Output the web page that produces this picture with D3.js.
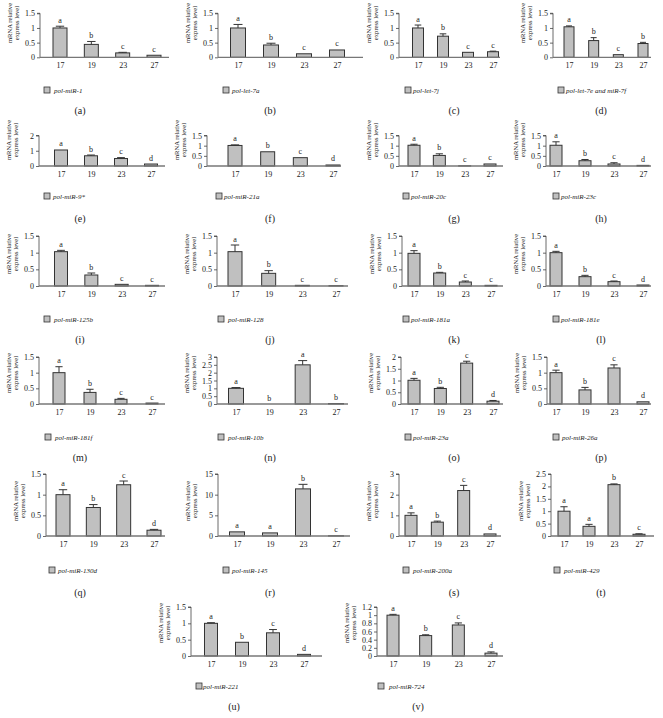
<!DOCTYPE html>
<html><head><meta charset="utf-8">
<script src="https://cdn.jsdelivr.net/npm/d3@7"></script>
<style>
html,body{margin:0;padding:0;background:#fff;}
svg{display:block;font-family:"Liberation Serif","DejaVu Serif",serif;}
</style></head>
<body><svg id="c" width="663" height="718"></svg>
<script>
// ---------- DATA ----------
const panelIds = ["a","b","c","d","e","f","g","h","i","j","k","l","m","n","o","p","q","r","s","t","u","v"];
const names = ["pol-miR-1","pol-let-7a","pol-let-7j","pol-let-7e and miR-7f","pol-miR-9*","pol-miR-21a","pol-miR-20c","pol-miR-23c",
  "pol-miR-125b","pol-miR-128","pol-miR-181a","pol-miR-181e","pol-miR-181f","pol-miR-10b","pol-miR-23a","pol-miR-26a",
  "pol-miR-130d","pol-miR-145","pol-miR-200a","pol-miR-429","pol-miR-221","pol-miR-724"];
const categories = ["17","19","23","27"];
const means = [
  [1.0,0.44,0.15,0.07],[1.0,0.42,0.12,0.25],[1.0,0.72,0.17,0.19],[1.04,0.57,0.09,0.47],
  [1.05,0.67,0.49,0.13],[1.01,0.7,0.41,0.05],[1.02,0.52,0.01,0.1],[1.02,0.26,0.1,0.03],
  [1.03,0.33,0.05,0.02],[1.03,0.38,0.02,0.01],[0.98,0.39,0.12,0.02],[1.0,0.28,0.13,0.03],
  [1.0,0.37,0.15,0.03],[1.0,0.0,2.5,0.03],[1.01,0.66,1.74,0.12],[1.0,0.45,1.15,0.07],
  [1.0,0.69,1.24,0.14],[1.0,0.75,11.4,0.05],[1.0,0.67,2.2,0.1],[1.0,0.39,2.07,0.07],
  [1.0,0.42,0.71,0.05],[1.0,0.5,0.76,0.07]
];
const errors = [
  [0.06,0.1,0.02,0],[0.12,0.06,0,0],[0.1,0.08,0,0.02],[0.03,0.1,0,0.04],
  [0,0.05,0.06,0],[0.03,0,0,0],[0.05,0.08,0,0],[0.17,0.06,0.06,0],
  [0.04,0.06,0,0],[0.2,0.08,0,0],[0.08,0.02,0.03,0],[0.04,0.04,0.02,0],
  [0.19,0.1,0.03,0],[0.05,0,0.27,0],[0.08,0.05,0.08,0.03],[0.08,0.08,0.1,0],
  [0.12,0.07,0.09,0.02],[0,0,1.1,0],[0.12,0.05,0.25,0],[0.18,0.08,0.03,0.02],
  [0.02,0,0.1,0],[0.02,0.02,0.05,0.03]
];
const letters = [
  ["a","b","c","c"],["a","b","c","c"],["a","b","c","c"],["a","b","c","b"],
  ["a","b","c","d"],["a","b","c","d"],["a","b","c","c"],["a","b","c","d"],
  ["a","b","c","c"],["a","b","c","c"],["a","b","c","c"],["a","b","c","d"],
  ["a","b","c","c"],["a","b","a","b"],["a","b","c","d"],["a","b","c","d"],
  ["a","b","c","d"],["a","a","b","c"],["a","b","c","d"],["a","a","b","c"],
  ["a","b","c","d"],["a","b","c","d"]
];
const t15 = [0,0.5,1,1.5];
const yTicks = [
  t15,t15,t15,t15,
  [0,1,2],t15,t15,t15,
  t15,t15,t15,t15,
  t15,[0,0.5,1,1.5,2,2.5,3],[0,0.5,1,1.5,2],t15,
  t15,[0,5,10,15],[0,1,2,3],[0,0.5,1,1.5,2,2.5],
  t15,[0,0.2,0.4,0.6,0.8,1,1.2]
];
const yTickLabels = yTicks.map(a => a.map(v => String(v)));
const yTitle = ["mRNA relative","express level"];

// ---------- LAYOUT (positions only) ----------
const colX = [
  {ax:40,c0:60,c3:154,xe:169,bw:14},{ax:218,c0:238,c3:337,xe:363,bw:15},{ax:399,c0:418,c3:493,xe:500,bw:11},{ax:553,c0:569,c3:643,xe:651,bw:10},
  {ax:39,c0:61,c3:151,xe:165,bw:13},{ax:207,c0:235,c3:333,xe:341,bw:14},{ax:399,c0:414,c3:490,xe:503,bw:12},{ax:546,c0:556,c3:643,xe:651,bw:12},
  {ax:39,c0:61,c3:152,xe:165,bw:13},{ax:217,c0:235,c3:336,xe:348,bw:14},{ax:402,c0:414,c3:491,xe:503,bw:12},{ax:546,c0:556,c3:643,xe:651,bw:12},
  {ax:39,c0:59,c3:152,xe:165,bw:12},{ax:217,c0:236,c3:336,xe:348,bw:15},{ax:401,c0:414,c3:493,xe:503,bw:12},{ax:547,c0:556,c3:643,xe:651,bw:12},
  {ax:46,c0:63,c3:154,xe:165,bw:14},{ax:218,c0:237,c3:336,xe:350,bw:15},{ax:399,c0:411,c3:490,xe:501,bw:12},{ax:551,c0:564,c3:639,xe:654,bw:12},
  {ax:191,c0:211,c3:304,xe:322,bw:13},{ax:377,c0:393,c3:491,xe:503,bw:12}
];
const rowY = [
  {top:13.3,zero:57.3,title:23,leg:90,lab:110},
  {top:135.5,zero:166,title:140,leg:196,lab:218},
  {top:236,zero:286,title:254,leg:319,lab:339},
  {top:357,zero:404,title:373,leg:437,lab:457},
  {top:474,zero:536,title:501,leg:570,lab:592},
  {top:607,zero:656,title:623,leg:686,lab:706}
];
const legX = [[44,54],[223,232],[405,413],[558,566],[44,53],[216,224],[403,411],[553,561],
  [44,54],[218,228],[403,411],[553,561],[45,55],[218,228],[405,413],[553,562],
  [49,58],[223,232],[403,413],[554,564],[196,203],[378,389]];
const labX = [80,270,454,601,80,270,454,601,80,270,454,601,80,270,454,601,80,270,454,601,234,418];

// ---------- DRAW ----------
const svg = d3.select("#c");
panelIds.forEach((id, i) => {
  const L = colX[i];
  const row = i < 20 ? Math.floor(i/4) : 5;
  const RY = rowY[row];
  const ticks = yTicks[i];
  const yMax = ticks[ticks.length-1];
  const y = d3.scaleLinear().domain([0, yMax]).range([RY.zero, RY.top]);
  const x = d3.scalePoint().domain(categories).range([L.c0, L.c3]);
  const g = svg.append("g");

  const yAxis = d3.axisLeft(y).tickValues(ticks).tickSize(3).tickPadding(2)
    .tickFormat((d, k) => yTickLabels[i][k]);
  const ya = g.append("g").attr("transform", `translate(${L.ax},0)`).call(yAxis);
  ya.select(".domain").attr("stroke", "#444").attr("stroke-width", 0.8).attr("d", `M-3,${RY.top}H0V${RY.zero}`);
  ya.selectAll(".tick line").attr("stroke", "#444").attr("stroke-width", 0.8);
  ya.selectAll(".tick text").attr("font-size", 8).attr("fill", "#222").attr("font-family", "Liberation Serif");

  const data = categories.map((c, k) => ({c, v: means[i][k], e: errors[i][k], l: letters[i][k]}));
  g.selectAll("rect.bar").data(data).join("rect").attr("class", "bar")
    .attr("x", d => x(d.c) - L.bw/2).attr("width", L.bw)
    .attr("y", d => y(d.v)).attr("height", d => Math.max(0, RY.zero - y(d.v)))
    .attr("fill", "#c0c0c0").attr("stroke", "#333").attr("stroke-width", 1);

  const eb = data.filter(d => d.e > 0);
  g.selectAll("path.err").data(eb).join("path").attr("class", "err")
    .attr("d", d => `M${x(d.c)},${y(d.v)}V${y(d.v + d.e)}M${x(d.c) - L.bw*0.3},${y(d.v + d.e)}H${x(d.c) + L.bw*0.3}`)
    .attr("stroke", "#333").attr("stroke-width", 1).attr("fill", "none");

  g.append("line").attr("x1", L.ax).attr("x2", L.xe).attr("y1", RY.zero).attr("y2", RY.zero)
    .attr("stroke", "#777").attr("stroke-width", 1.3);

  const xAxis = d3.axisBottom(x).tickSize(0).tickPadding(5);
  const xa = g.append("g").attr("transform", `translate(0,${RY.zero})`).call(xAxis);
  xa.select(".domain").remove();
  xa.selectAll(".tick text").attr("font-size", 8).attr("fill", "#222").attr("font-family", "Liberation Serif");

  g.selectAll("text.let").data(data).join("text").attr("class", "let")
    .attr("x", d => x(d.c)).attr("y", d => y(d.v + d.e) - 3.5)
    .attr("text-anchor", "middle").attr("font-size", 8).attr("fill", "#222")
    .text(d => d.l);

  const tt = g.append("text").attr("transform", `translate(${L.ax - 28},${RY.title}) rotate(-90)`)
    .attr("text-anchor", "middle").attr("font-size", 6.6).attr("fill", "#222");
  tt.append("tspan").attr("x", 0).attr("dy", 0).text(yTitle[0]);
  tt.append("tspan").attr("x", 0).attr("dy", 7).text(yTitle[1]);

  g.append("rect").attr("x", legX[i][0]).attr("y", RY.leg - 3).attr("width", 6).attr("height", 6)
    .attr("fill", "#c0c0c0").attr("stroke", "#333").attr("stroke-width", 0.8);
  g.append("text").attr("x", legX[i][1]).attr("y", RY.leg + 2.5).attr("font-size", 7)
    .attr("font-style", "italic").attr("fill", "#222").text(names[i]);

  g.append("text").attr("x", labX[i]).attr("y", RY.lab + 3.5).attr("text-anchor", "middle")
    .attr("font-size", 10).attr("fill", "#222").text(`(${id})`);
});
</script></body></html>
